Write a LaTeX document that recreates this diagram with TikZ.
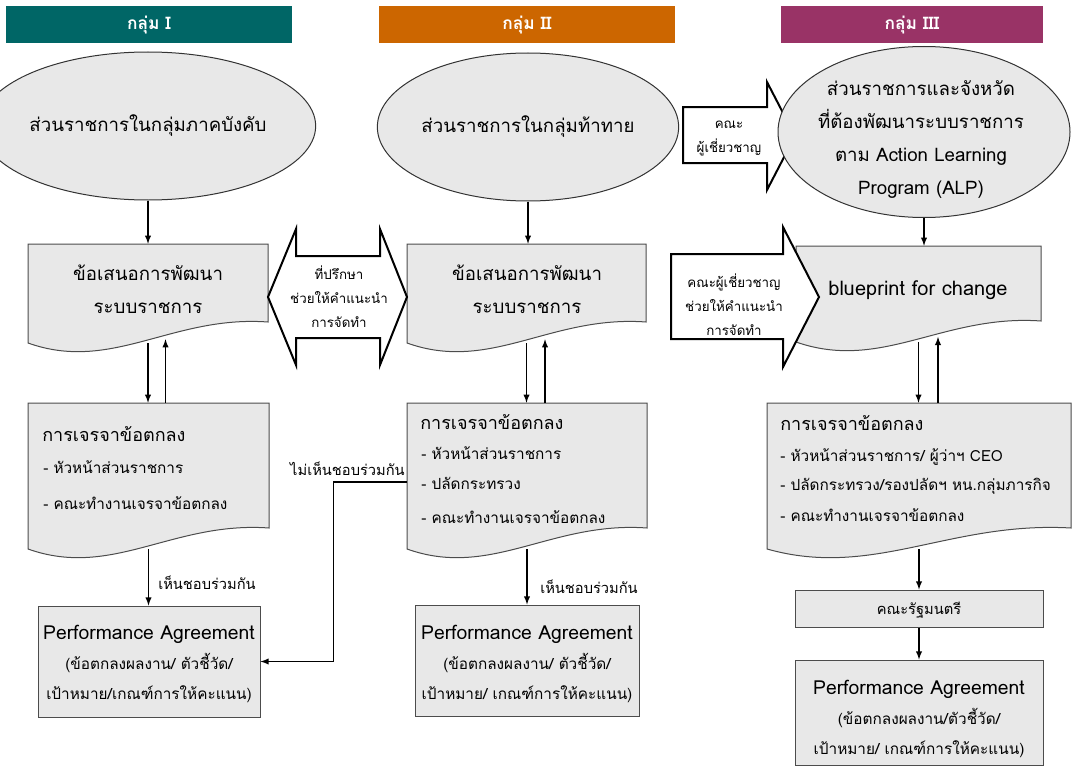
\documentclass[tikz,border=0pt]{standalone}
\usepackage{fontspec}
\setmainfont{Loma}[Script=Thai]
\usetikzlibrary{shapes.geometric}

\definecolor{headone}{HTML}{006666}
\definecolor{headtwo}{HTML}{CC6600}
\definecolor{headthree}{HTML}{993366}
\definecolor{boxgray}{HTML}{E8E8E8}

% document box with a wavy bottom edge: name, left, top, right, bottom-left
\newcommand{\docwave}[5]{%
    \pgfmathsetmacro{\dww}{#4-#2}
    \draw[wave_style] (#2,#3) -- (#4,#3) -- (#4,#5-21)
        .. controls ({#2+0.6*\dww},#5-28) and ({#2+0.35*\dww},#5+30) .. (#2,#5) -- cycle;
    \node[frame_style, minimum width=\dww*0.75pt, minimum height=(#5-#3)*0.75pt] (#1) at ({(#2+#4)/2},{(#3+#5)/2}) {};
}

\begin{document}
\begin{tikzpicture}
    [
        x=0.75pt, y=-0.75pt,
        sz/.style 2 args={minimum width=#1*0.75pt, minimum height=#2*0.75pt},
        head_style/.style={rectangle, inner sep=0pt, text=white, font=\fontsize{13}{15}\selectfont\bfseries},
        ell_style/.style={ellipse, draw=black!80, fill=boxgray, line width=0.75pt, inner sep=0pt, font=\fontsize{14}{24.75}\selectfont},
        wave_style/.style={draw=black!70, fill=boxgray, line width=0.75pt},
        frame_style/.style={rectangle, inner sep=0pt},
        box_style/.style={rectangle, draw=black!70, fill=boxgray, line width=0.75pt, inner sep=0pt},
        big_text/.style={align=center, inner sep=0pt, font=\fontsize{14}{24.75}\selectfont},
        title_text/.style={anchor=west, inner sep=0pt, font=\fontsize{13.5}{16}\selectfont},
        item_text/.style={anchor=west, inner sep=0pt, font=\fontsize{11.5}{13}\selectfont},
        pa_text/.style={align=center, inner sep=0pt, font=\fontsize{11.5}{22.5}\selectfont},
        label_text/.style={inner sep=0pt, font=\fontsize{11}{13}\selectfont},
        hint_text/.style={align=center, inner sep=0pt, font=\fontsize{10}{18}\selectfont},
        big_arrow/.style={draw=black, fill=white, line width=1.5pt, line join=miter},
        arr/.style={->, >=latex, line width=1.1pt}
    ]
        \useasboundingbox (0,0) rectangle (1074,767);

        % group headers
        \node[head_style, fill=headone, sz={286}{37}] (g1) at (149,25) {กลุ่ม I};
        \node[head_style, fill=headtwo, sz={296}{37}] (g2) at (527,25) {กลุ่ม II};
        \node[head_style, fill=headthree, sz={262}{37}] (g3) at (912,25) {กลุ่ม III};

        % groups of agencies
        \node[ell_style, sz={276}{148}] (e1) at (148,126) {ส่วนราชการในกลุ่มภาคบังคับ};
        \node[ell_style, sz={278}{148}] (e2) at (528,127) {ส่วนราชการในกลุ่มท้าทาย};
        \draw[big_arrow] (683,107) -- (767,107) -- (767,82) -- (795,136) -- (767,190) -- (767,163) -- (683,163) -- cycle;
        \node[hint_text] (x1t) at (729,138) {คณะ\\ผู้เชี่ยวชาญ};
        \node[ell_style, sz={292}{171}] (e3) at (924,132) {};
        \node[big_text] (e3t) at (921,140) {ส่วนราชการและจังหวัด\\ที่ต้องพัฒนาระบบราชการ\\ตาม Action Learning\\Program (ALP)};

        % proposals
        \docwave{d1}{28}{244}{268}{343}
        \docwave{d2}{407}{244}{646}{343}
        \docwave{d3}{796}{246}{1041}{342}
        \node[big_text] (d1t) at (148,289.5) {ข้อเสนอการพัฒนา\\ระบบราชการ};
        \node[big_text] (d2t) at (527,289.5) {ข้อเสนอการพัฒนา\\ระบบราชการ};
        \node[big_text, font=\fontsize{15}{18}\selectfont] (d3t) at (918,290) {blueprint for change};

        \draw[big_arrow] (268,297) -- (296,229) -- (296,256) -- (380,256) -- (380,229) -- (407,297)
            -- (380,365) -- (380,338) -- (296,338) -- (296,365) -- cycle;
        \node[hint_text] (a1t) at (339,297) {ที่ปรึกษา\\ช่วยให้คำแนะนำ\\การจัดทำ};
        \draw[big_arrow] (671,254) -- (783,254) -- (783,227) -- (819,297) -- (783,367) -- (783,339) -- (671,339) -- cycle;
        \node[hint_text] (x2t) at (734,305) {คณะผู้เชี่ยวชาญ\\ช่วยให้คำแนะนำ\\การจัดทำ};

        % negotiation
        \docwave{n1}{28}{403}{269}{549}
        \docwave{n2}{407}{403}{647}{549}
        \docwave{n3}{767}{403}{1071}{549}
        \node[title_text] (n1a) at (42,434) {การเจรจาข้อตกลง};
        \node[item_text] (n1b) at (43,467) {- หัวหน้าส่วนราชการ};
        \node[item_text] (n1c) at (43,503) {- คณะทำงานเจรจาข้อตกลง};
        \node[title_text] (n2a) at (420,422) {การเจรจาข้อตกลง};
        \node[item_text] (n2b) at (421,453) {- หัวหน้าส่วนราชการ};
        \node[item_text] (n2c) at (421,483) {- ปลัดกระทรวง};
        \node[item_text] (n2d) at (421,517) {- คณะทำงานเจรจาข้อตกลง};
        \node[title_text] (n3a) at (780,423) {การเจรจาข้อตกลง};
        \node[item_text] (n3b) at (780,457) {- หัวหน้าส่วนราชการ/ ผู้ว่าฯ CEO};
        \node[item_text] (n3c) at (780,486) {- ปลัดกระทรวง/รองปลัดฯ หน.กลุ่มภารกิจ};
        \node[item_text] (n3d) at (780,515) {- คณะทำงานเจรจาข้อตกลง};

        % agreements
        \node[box_style, sz={222}{111}] (p1) at (149,661.5) {};
        \node[box_style, sz={224}{111}] (p2) at (527,660.5) {};
        \node[box_style, sz={248}{37}] (cab) at (919,608.5) {};
        \node[box_style, sz={248}{105}] (p3) at (919,712.5) {};
        \node[pa_text] (p1t) at (149,664) {\fontsize{14.5}{17}\selectfont Performance Agreement\\(ข้อตกลงผลงาน/ ตัวชี้วัด/\\เป้าหมาย/เกณฑ์การให้คะแนน)};
        \node[pa_text] (p2t) at (527,664) {\fontsize{14.5}{17}\selectfont Performance Agreement\\(ข้อตกลงผลงาน/ ตัวชี้วัด/\\เป้าหมาย/ เกณฑ์การให้คะแนน)};
        \node[label_text] (cabt) at (919,610) {คณะรัฐมนตรี};
        \node[pa_text] (p3t) at (919,719) {\fontsize{14.5}{17}\selectfont Performance Agreement\\(ข้อตกลงผลงาน/ตัวชี้วัด/\\เป้าหมาย/ เกณฑ์การให้คะแนน)};

        % connectors
        \draw[arr] (e1.south) -- (e1.south |- d1.north);
        \draw[arr] (e2.south) -- (e2.south |- d2.north);
        \draw[arr] (e3.south) -- (e3.south |- d3.north);
        \draw[arr] (d1.south) -- (d1.south |- n1.north);
        \draw[arr] ([xshift=12.75pt]n1.north) -- ([xshift=12.75pt,yshift=3pt]n1.north |- d1.south);
        \draw[arr] (d2.south) -- (d2.south |- n2.north);
        \draw[arr] ([xshift=13.5pt]n2.north) -- ([xshift=13.5pt,yshift=3pt]n2.north |- d2.south);
        \draw[arr] (d3.south) -- (d3.south |- n3.north);
        \draw[arr] ([xshift=14.25pt]n3.north) -- ([xshift=14.25pt,yshift=4pt]n3.north |- d3.south);
        \draw[arr] (n1.south) -- (n1.south |- p1.north);
        \draw[arr] (n2.south) -- (n2.south |- p2.north);
        \draw[arr] (n3.south) -- (n3.south |- cab.north);
        \draw[arr] (cab) -- (p3);
        \draw[arr] ([yshift=-4.5pt]n2.west) -- ++(-73,0) |- (p1.east);

        \node[label_text, anchor=west] (ok1) at (158,583) {เห็นชอบร่วมกัน};
        \node[label_text, anchor=west] (ok2) at (540,587) {เห็นชอบร่วมกัน};
        \node[label_text, anchor=east] (nok) at (405,469) {ไม่เห็นชอบร่วมกัน};
    \end{tikzpicture}
\end{document}
